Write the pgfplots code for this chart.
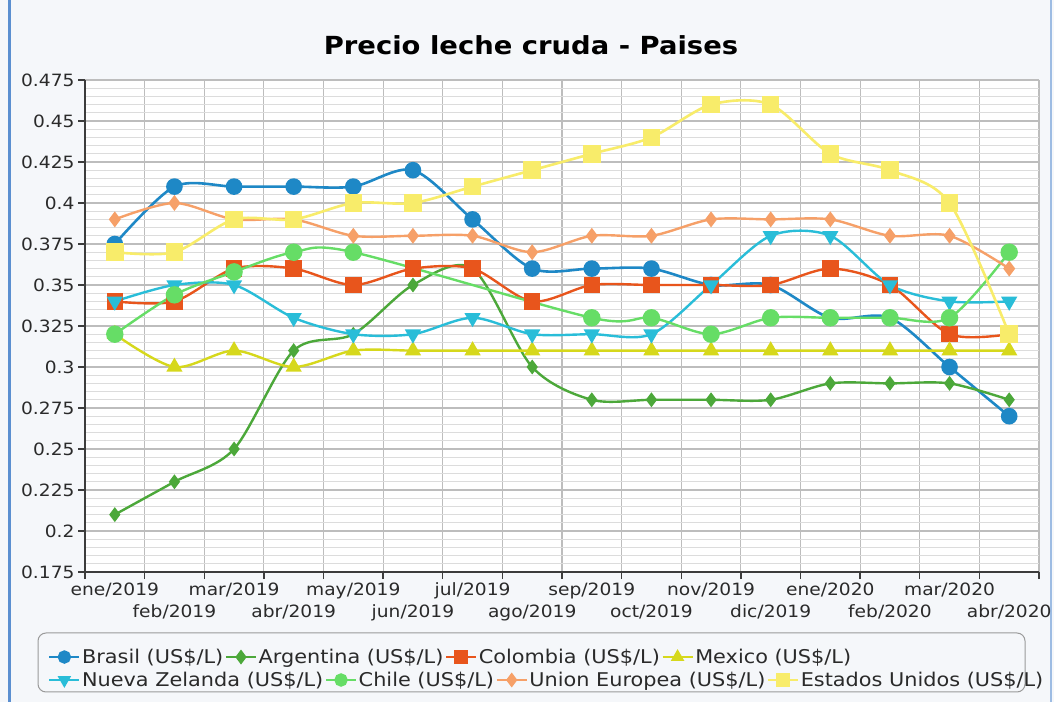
\documentclass[border=0pt]{standalone}
\usepackage{fontspec}
\setmainfont{DejaVu Sans}[FakeStretch=1.1]
\usepackage{pgfplots}
\pgfplotsset{compat=1.18}

\definecolor{brasil}{HTML}{1E88C6}
\definecolor{argentina}{HTML}{4CA83A}
\definecolor{colombia}{HTML}{E8551C}
\definecolor{mexico}{HTML}{D6D81C}
\definecolor{nz}{HTML}{29BDD8}
\definecolor{chile}{HTML}{66DD66}
\definecolor{ue}{HTML}{F6A068}
\definecolor{eu}{HTML}{F8EC6A}
\definecolor{axisdark}{HTML}{3C3C3C}
\definecolor{gridmajor}{HTML}{BDBDBD}
\definecolor{gridminor}{HTML}{DCDCDC}
\definecolor{bgcol}{HTML}{F5F7FA}
\definecolor{framecol}{HTML}{5B8FD0}
\definecolor{legendborder}{HTML}{9A9A9A}
\definecolor{labelcol}{HTML}{2A2A2A}

\pgfplotsset{
  brasilstyle/.style={color=brasil, line width=2.6bp, mark=*, mark size=7bp, smooth},
  argstyle/.style={color=argentina, line width=2.4bp, mark=diamond*, mark size=5.5bp, smooth},
  colstyle/.style={color=colombia, line width=2.4bp, mark=square*, mark size=7bp, smooth},
  mexstyle/.style={color=mexico, line width=2.4bp, mark=triangle*, mark size=7bp, smooth},
  nzstyle/.style={color=nz, line width=2.4bp, mark=triangle*, mark size=7bp, mark options={rotate=180}, smooth},
  chilestyle/.style={color=chile, line width=2.4bp, mark=*, mark size=7.5bp, smooth},
  uestyle/.style={color=ue, line width=2.4bp, mark=diamond*, mark size=6bp, smooth},
  eustyle/.style={color=eu, line width=2.6bp, mark=square*, mark size=7.5bp, smooth},
  mylegend/.style={
    legend columns=-1,
    legend cell align=left,
    legend style={draw=none, fill=none, inner sep=0pt,
      font=\fontsize{19}{22}\selectfont, text=labelcol,
      /tikz/every even column/.style={column sep=0pt},
      nodes={inner sep=1.5bp}},
    legend image code/.code={
      \draw[mark repeat=2, mark phase=2, ##1, mark size=5.5bp, line width=2.4bp]
        plot coordinates {(0bp,0bp) (15bp,0bp) (30bp,0bp)};
    },
  },
}

\begin{document}
\begin{tikzpicture}
\path[use as bounding box] (0bp,0bp) rectangle (1054bp,702bp);
\fill[bgcol] (0bp,0bp) rectangle (1054bp,702bp);
\draw[framecol, line width=3bp] (9bp,0bp) -- (9bp,702bp);
\draw[framecol!60, line width=2bp] (1051bp,0bp) -- (1051bp,702bp);
\node[font=\bfseries\fontsize{25}{30}\selectfont, text=black] at (531bp,657bp) {Precio leche cruda - Paises};
\draw[legendborder, line width=1bp, rounded corners=8bp, fill=bgcol] (38bp,10bp) rectangle (1025bp,69bp);

\begin{axis}[
  at={(85bp,130bp)}, anchor=south west, scale only axis,
  width=954bp, height=492bp,
  xmin=-0.5, xmax=15.5, ymin=0.175, ymax=0.475,
  axis background/.style={fill=white},
  axis x line*=bottom, axis y line*=left,
  axis line style={line width=1.8bp, color=axisdark, -},
  xtick={-0.5,0.5,1.5,2.5,3.5,4.5,5.5,6.5,7.5,8.5,9.5,10.5,11.5,12.5,13.5,14.5,15.5},
  x tick label as interval,
  xticklabels={{\strut ene/2019},{\strut\\\strut feb/2019},{\strut mar/2019},{\strut\\\strut abr/2019},
    {\strut may/2019},{\strut\\\strut jun/2019},{\strut jul/2019},{\strut\\\strut ago/2019},
    {\strut sep/2019},{\strut\\\strut oct/2019},{\strut nov/2019},{\strut\\\strut dic/2019},
    {\strut ene/2020},{\strut\\\strut feb/2020},{\strut mar/2020},{\strut\\\strut abr/2020}},
  xtick style={draw=axisdark, line width=1.3bp},
  xmajorgrids=true, xminorgrids=false,
  ytick={0.175,0.2,0.225,0.25,0.275,0.3,0.325,0.35,0.375,0.4,0.425,0.45,0.475},
  yticklabels={0.175,0.2,0.225,0.25,0.275,0.3,0.325,0.35,0.375,0.4,0.425,0.45,0.475},
  minor y tick num=4,
  ymajorgrids=true, yminorgrids=true,
  major grid style={gridmajor, line width=1.1bp},
  minor grid style={gridminor, line width=0.9bp},
  tick align=outside, major tick length=7bp, minor tick length=0bp,
  ytick style={draw=axisdark, line width=1.4bp},
  tick label style={font=\fontsize{17}{22}\selectfont, text=labelcol},
  xticklabel style={align=center, anchor=north, yshift=2bp},
  mylegend,
  legend style={at={(axis description cs:-0.0388,-0.1728)}, anchor=west},
]
\addplot[brasilstyle] coordinates {(0,0.375) (1,0.41) (2,0.41) (3,0.41) (4,0.41) (5,0.42) (6,0.39) (7,0.36) (8,0.36) (9,0.36) (10,0.35) (11,0.35) (12,0.33) (13,0.33) (14,0.30) (15,0.27)};
\addlegendentry{Brasil (US\$/L)}
\addplot[argstyle] coordinates {(0,0.21) (1,0.23) (2,0.25) (3,0.31) (4,0.32) (5,0.35) (6,0.36) (7,0.30) (8,0.28) (9,0.28) (10,0.28) (11,0.28) (12,0.29) (13,0.29) (14,0.29) (15,0.28)};
\addlegendentry{Argentina (US\$/L)}
\addplot[colstyle] coordinates {(0,0.34) (1,0.34) (2,0.36) (3,0.36) (4,0.35) (5,0.36) (6,0.36) (7,0.34) (8,0.35) (9,0.35) (10,0.35) (11,0.35) (12,0.36) (13,0.35) (14,0.32) (15,0.32)};
\addlegendentry{Colombia (US\$/L)}
\addplot[mexstyle] coordinates {(0,0.32) (1,0.30) (2,0.31) (3,0.30) (4,0.31) (5,0.31) (6,0.31) (7,0.31) (8,0.31) (9,0.31) (10,0.31) (11,0.31) (12,0.31) (13,0.31) (14,0.31) (15,0.31)};
\addlegendentry{Mexico (US\$/L)}
\addplot[nzstyle, forget plot] coordinates {(0,0.34) (1,0.35) (2,0.35) (3,0.33) (4,0.32) (5,0.32) (6,0.33) (7,0.32) (8,0.32) (9,0.32) (10,0.35) (11,0.38) (12,0.38) (13,0.35) (14,0.34) (15,0.34)};
\addplot[chilestyle, forget plot] coordinates {(0,0.32) (1,0.344) (2,0.358) (3,0.37) (4,0.37) (8,0.33) (9,0.33) (10,0.32) (11,0.33) (12,0.33) (13,0.33) (14,0.33) (15,0.37)};
\addplot[uestyle, forget plot] coordinates {(0,0.39) (1,0.40) (2,0.39) (3,0.39) (4,0.38) (5,0.38) (6,0.38) (7,0.37) (8,0.38) (9,0.38) (10,0.39) (11,0.39) (12,0.39) (13,0.38) (14,0.38) (15,0.36)};
\addplot[eustyle, forget plot] coordinates {(0,0.37) (1,0.37) (2,0.39) (3,0.39) (4,0.40) (5,0.40) (6,0.41) (7,0.42) (8,0.43) (9,0.44) (10,0.46) (11,0.46) (12,0.43) (13,0.42) (14,0.40) (15,0.32)};
\end{axis}

\begin{axis}[
  at={(85bp,130bp)}, anchor=south west, scale only axis,
  width=954bp, height=492bp, hide axis,
  xmin=0, xmax=1, ymin=0, ymax=1,
  mylegend,
  legend style={at={(axis description cs:-0.0388,-0.2195)}, anchor=west},
]
\addlegendimage{nzstyle}
\addlegendentry{Nueva Zelanda (US\$/L)}
\addlegendimage{chilestyle}
\addlegendentry{Chile (US\$/L)}
\addlegendimage{uestyle}
\addlegendentry{Union Europea (US\$/L)}
\addlegendimage{eustyle}
\addlegendentry{Estados Unidos (US\$/L)}
\end{axis}
\end{tikzpicture}
\end{document}
